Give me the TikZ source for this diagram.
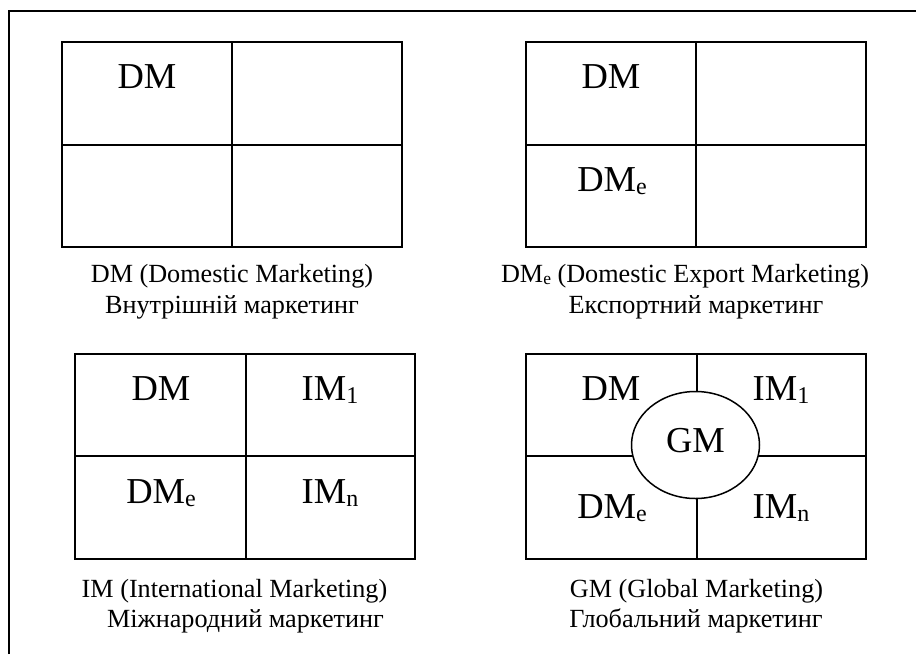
\documentclass[tikz,border=0pt]{standalone}
\usepackage{fontspec}
\setmainfont{Liberation Serif}
\usetikzlibrary{shapes.geometric}
\newcommand\bigsub[1]{\raisebox{-3.5pt}{\fontsize{24}{24}\selectfont #1}}
\newcommand\capsub[1]{\raisebox{-2pt}{\fontsize{17.5}{17.5}\selectfont #1}}
\begin{document}
\begin{tikzpicture}[x=1pt,y=-1pt,
  gridline/.style={line width=2pt},
  framel/.style={line width=2.2pt},
  cell/.style={anchor=base,inner sep=0pt,font=\fontsize{36.5}{36.5}\selectfont},
  capt/.style={anchor=base,inner sep=0pt,font=\fontsize{26.2}{26.2}\selectfont}]
\useasboundingbox (0,0) rectangle (916,654);
% outer frame (top and left visible)
\draw[framel] (9,654) -- (9,11) -- (916,11);

% grid 1
\draw[gridline] (62,42) rectangle (402,247);
\draw[gridline] (232,42) -- (232,247);
\draw[gridline] (62,145) -- (402,145);
\node[cell] (a1) at (147,88) {DM};
\node[capt] (ac1) at (232,282) {DM (Domestic Marketing)};
\node[capt] (ac2) at (232,313) {Внутрішній маркетинг};

% grid 2
\draw[gridline] (526,42) rectangle (866,247);
\draw[gridline] (696,42) -- (696,247);
\draw[gridline] (526,145) -- (866,145);
\node[cell] (b1) at (611,88) {DM};
\node[cell] (b2) at (612,191) {DM\bigsub{e}};
\node[capt] (bc1) at (685,282) {DM\capsub{e} (Domestic Export Marketing)};
\node[capt] (bc2) at (696,313) {Експортний маркетинг};

% grid 3
\draw[gridline] (75,354) rectangle (415,559);
\draw[gridline] (246,354) -- (246,559);
\draw[gridline] (75,456) -- (415,456);
\node[cell] (c1) at (161,400) {DM};
\node[cell] (c2) at (330,400) {IM\bigsub{1}};
\node[cell] (c3) at (161,503) {DM\bigsub{e}};
\node[cell] (c4) at (330,503) {IM\bigsub{n}};
\node[capt] (cc1) at (234.5,597) {IM (International Marketing)};
\node[capt] (cc2) at (245.5,627) {Міжнародний маркетинг};

% grid 4
\draw[gridline] (526,354) rectangle (866,559);
\draw[gridline] (697,354) -- (697,559);
\draw[gridline] (526,456) -- (866,456);
\node[ellipse,draw,fill=white,line width=1.5pt,inner sep=0pt,
      minimum width=128pt,minimum height=107pt] (gm) at (695.5,445) {};
\node[cell] (gmt) at (695.5,452) {GM};
\node[cell] (d1) at (611,400) {DM};
\node[cell] (d2) at (781,400) {IM\bigsub{1}};
\node[cell] (d3) at (612,518) {DM\bigsub{e}};
\node[cell] (d4) at (781,518) {IM\bigsub{n}};
\node[capt] (dc1) at (696.5,597) {GM (Global Marketing)};
\node[capt] (dc2) at (696,627) {Глобальний маркетинг};
\end{tikzpicture}
\end{document}
